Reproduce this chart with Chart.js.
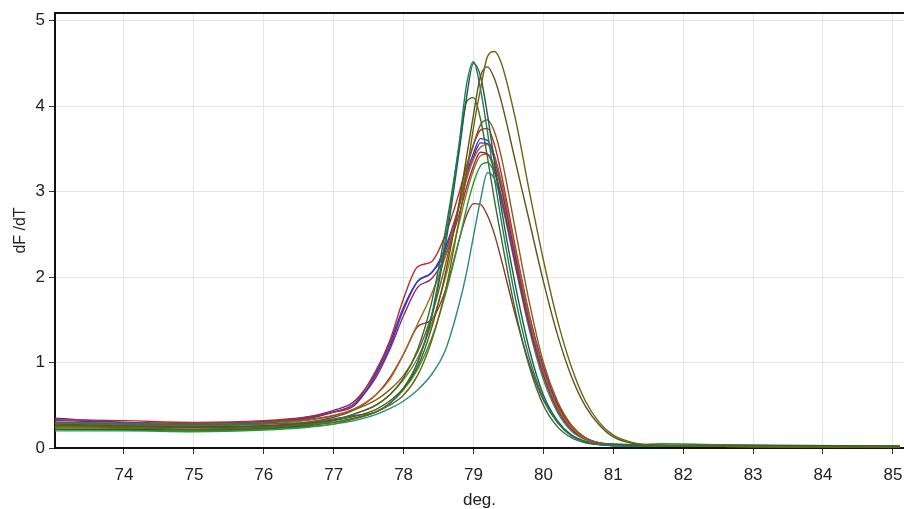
<!DOCTYPE html>
<html>
<head>
<meta charset="utf-8">
<script src="https://cdn.jsdelivr.net/npm/chart.js@4.4.1/dist/chart.umd.min.js"></script>
<style>
  html, body { margin: 0; padding: 0; background: #ffffff; overflow: hidden; }
</style>
</head>
<body>
<canvas id="melt" width="904" height="509"></canvas>
<script>
// Temperatures (deg.) shared by every well
const temps = [73.0, 74.0, 75.0, 76.0, 76.6, 77.0, 77.3, 77.6, 77.8, 78.0, 78.2, 78.4, 78.6, 78.8, 78.9, 79.0,
  79.1, 79.2, 79.3, 79.4, 79.6, 79.8, 80.0, 80.2, 80.4, 80.6, 80.8, 81.0, 81.3, 81.7, 82.5, 85.1];

// dF/dT per well
const oliveHigh = [0.25, 0.24, 0.22, 0.24, 0.27, 0.30, 0.35, 0.42, 0.50, 0.62, 0.85, 1.25, 1.85, 2.70, 3.20, 3.75,
  4.20, 4.58, 4.64, 4.50, 3.85, 3.00, 2.20, 1.50, 0.95, 0.55, 0.30, 0.15, 0.06, 0.03, 0.02, 0.01];
const oliveInner = [0.28, 0.26, 0.25, 0.26, 0.29, 0.32, 0.37, 0.45, 0.55, 0.70, 0.95, 1.40, 2.05, 2.90, 3.40, 3.90,
  4.35, 4.46, 4.32, 4.05, 3.35, 2.65, 1.95, 1.33, 0.84, 0.49, 0.27, 0.13, 0.05, 0.03, 0.02, 0.01];
const tealTall = [0.30, 0.28, 0.27, 0.28, 0.30, 0.34, 0.38, 0.42, 0.52, 0.70, 1.00, 1.55, 2.45, 3.60, 4.25, 4.52,
  4.20, 3.70, 3.15, 2.65, 1.75, 1.05, 0.58, 0.30, 0.14, 0.07, 0.04, 0.03, 0.02, 0.02, 0.02, 0.01];
const greenTall = [0.22, 0.22, 0.21, 0.23, 0.26, 0.30, 0.35, 0.42, 0.52, 0.70, 1.00, 1.52, 2.38, 3.50, 4.10, 4.50,
  4.35, 3.90, 3.35, 2.80, 1.90, 1.15, 0.62, 0.32, 0.15, 0.07, 0.04, 0.03, 0.03, 0.03, 0.03, 0.02];
const greenMid = [0.27, 0.25, 0.24, 0.25, 0.28, 0.33, 0.40, 0.50, 0.62, 0.82, 1.15, 1.70, 2.55, 3.55, 4.05, 4.10,
  3.85, 3.40, 2.90, 2.45, 1.60, 0.95, 0.50, 0.25, 0.12, 0.06, 0.04, 0.03, 0.03, 0.03, 0.03, 0.02];
const brown = [0.30, 0.29, 0.28, 0.30, 0.33, 0.38, 0.45, 0.56, 0.68, 0.85, 1.12, 1.55, 2.15, 2.85, 3.25, 3.55,
  3.78, 3.84, 3.70, 3.40, 2.55, 1.70, 1.00, 0.55, 0.27, 0.12, 0.06, 0.04, 0.03, 0.02, 0.02, 0.01];
const red = [0.33, 0.32, 0.30, 0.32, 0.36, 0.42, 0.52, 0.90, 1.25, 1.75, 2.12, 2.18, 2.50, 3.00, 3.30, 3.55,
  3.72, 3.74, 3.55, 3.20, 2.35, 1.55, 0.92, 0.50, 0.25, 0.12, 0.06, 0.04, 0.03, 0.02, 0.02, 0.01];
const blue = [0.35, 0.30, 0.29, 0.31, 0.35, 0.42, 0.50, 0.85, 1.18, 1.62, 1.95, 2.05, 2.30, 2.85, 3.20, 3.45,
  3.62, 3.60, 3.42, 3.10, 2.30, 1.55, 0.95, 0.52, 0.26, 0.12, 0.06, 0.04, 0.03, 0.02, 0.02, 0.01];
const purple = [0.32, 0.30, 0.28, 0.30, 0.36, 0.44, 0.55, 0.88, 1.22, 1.65, 1.95, 2.05, 2.35, 2.85, 3.15, 3.40,
  3.57, 3.56, 3.38, 3.05, 2.25, 1.50, 0.90, 0.50, 0.25, 0.12, 0.06, 0.04, 0.03, 0.02, 0.02, 0.01];
const crimson = [0.30, 0.28, 0.27, 0.29, 0.34, 0.42, 0.52, 0.82, 1.15, 1.55, 1.88, 1.98, 2.25, 2.75, 3.05, 3.30,
  3.46, 3.44, 3.25, 2.92, 2.15, 1.42, 0.85, 0.45, 0.22, 0.11, 0.05, 0.04, 0.03, 0.02, 0.02, 0.01];
const olive = [0.24, 0.23, 0.22, 0.24, 0.27, 0.32, 0.40, 0.50, 0.62, 0.80, 1.05, 1.45, 2.00, 2.65, 2.98, 3.25,
  3.42, 3.44, 3.30, 3.02, 2.25, 1.50, 0.88, 0.47, 0.23, 0.11, 0.05, 0.03, 0.03, 0.02, 0.02, 0.01];
const green = [0.20, 0.20, 0.19, 0.21, 0.24, 0.28, 0.34, 0.42, 0.52, 0.68, 0.92, 1.28, 1.80, 2.45, 2.80, 3.10,
  3.30, 3.34, 3.22, 2.95, 2.20, 1.45, 0.85, 0.45, 0.22, 0.10, 0.06, 0.05, 0.04, 0.05, 0.04, 0.02];
const tealLate = [0.22, 0.21, 0.20, 0.22, 0.25, 0.28, 0.32, 0.39, 0.46, 0.55, 0.68, 0.86, 1.15, 1.70, 2.05, 2.48,
  2.90, 3.22, 3.15, 2.88, 2.12, 1.38, 0.80, 0.42, 0.20, 0.10, 0.06, 0.04, 0.04, 0.03, 0.03, 0.02];
const brownRed = [0.26, 0.25, 0.24, 0.26, 0.30, 0.36, 0.45, 0.62, 0.82, 1.10, 1.42, 1.50, 1.85, 2.45, 2.72, 2.86,
  2.85, 2.72, 2.50, 2.20, 1.55, 0.98, 0.56, 0.30, 0.15, 0.08, 0.05, 0.03, 0.03, 0.02, 0.02, 0.01];
const orange = [0.29, 0.27, 0.26, 0.28, 0.32, 0.38, 0.46, 0.62, 0.80, 1.10, 1.45, 1.80, 2.25, 2.85, 3.15, 3.38,
  3.52, 3.55, 3.40, 3.10, 2.30, 1.52, 0.90, 0.48, 0.24, 0.11, 0.05, 0.03, 0.03, 0.02, 0.02, 0.01];

const wells = [
  { data: oliveHigh, color: "#6e6414" },
  { data: oliveInner, color: "#5e5418" },
  { data: tealTall, color: "#1d7a70" },
  { data: greenTall, color: "#245f34" },
  { data: greenMid, color: "#3a6a28" },
  { data: brown, color: "#8a5a1e" },
  { data: orange, color: "#b0641c" },
  { data: red, color: "#c0262a" },
  { data: blue, color: "#2242c8" },
  { data: purple, color: "#6a1fa5" },
  { data: crimson, color: "#a0205a" },
  { data: olive, color: "#8c7c1c" },
  { data: green, color: "#279a3c" },
  { data: tealLate, color: "#2e8a78" },
  { data: brownRed, color: "#8a3b2e" },
];

// Bordo superiore del grafico
const topBorder = {
  id: "topBorder",
  afterDraw(chart) {
    const { ctx, chartArea } = chart;
    ctx.save();
    ctx.strokeStyle = "#111";
    ctx.lineWidth = 2;
    ctx.beginPath();
    ctx.moveTo(chartArea.left, chartArea.top);
    ctx.lineTo(chartArea.right, chartArea.top);
    ctx.stroke();
    ctx.restore();
  },
};

const font = { family: "'Liberation Sans', Arial, sans-serif", size: 17 };

new Chart(document.getElementById("melt"), {
  type: "line",
  data: {
    datasets: wells.map((w) => ({
      data: temps.map((t, i) => ({ x: t, y: w.data[i] })),
      borderColor: w.color,
      borderWidth: 1.4,
      pointRadius: 0,
      fill: false,
      cubicInterpolationMode: "monotone",
    })),
  },
  options: {
    responsive: false,
    devicePixelRatio: 1,
    animation: false,
    layout: { padding: { top: 13, right: 0, bottom: 0, left: 0 } },
    plugins: { legend: { display: false }, tooltip: { enabled: false } },
    scales: {
      x: {
        type: "linear",
        min: 73.013,
        max: 85.159,
        afterFit: (s) => { s.height = 61; s.paddingRight = 0; s.paddingLeft = 0; },
        ticks: { stepSize: 1, includeBounds: false, color: "#222", font, padding: 11, maxRotation: 0 },
        grid: { color: "#e4e4e4", tickColor: "#333", tickLength: 6 },
        border: { color: "#111", width: 2 },
        title: { display: true, text: "deg.", color: "#222", font: { ...font, lineHeight: 1 }, padding: { top: 0, bottom: 0 } },
      },
      y: {
        min: 0,
        max: 5.09,
        afterFit: (s) => { s.width = 55; s.paddingTop = 0; s.paddingBottom = 0; },
        ticks: { stepSize: 1, includeBounds: false, color: "#222", font, padding: 4 },
        grid: { color: "#e4e4e4", tickColor: "#333", tickLength: 6 },
        border: { color: "#111", width: 2 },
        title: { display: true, text: "dF /dT", color: "#222", font: { ...font, size: 16, lineHeight: 1 }, padding: { top: 13, bottom: 0 } },
      },
    },
  },
  plugins: [topBorder],
});
</script>
</body>
</html>
